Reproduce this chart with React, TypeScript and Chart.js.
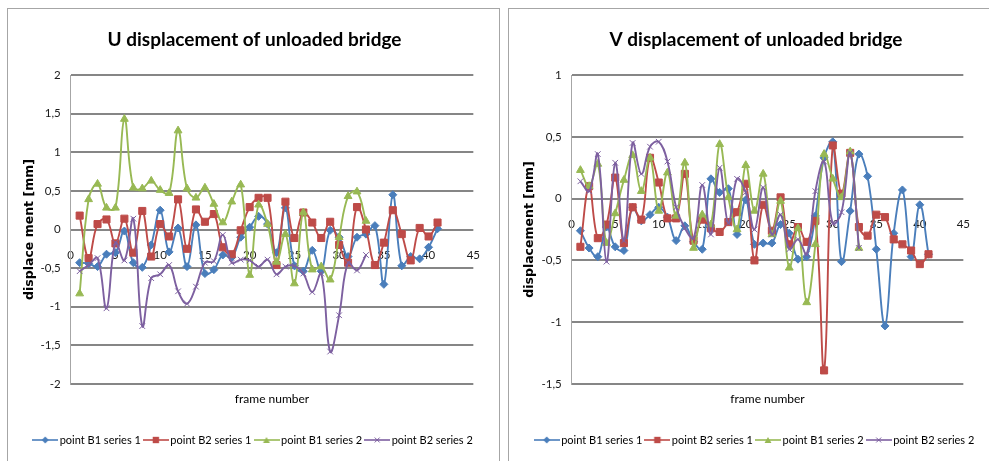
import React, { useEffect, useRef } from "react";
import { Chart, registerables } from "chart.js";

Chart.register(...registerables);

// ---------- data ----------
const FRAMES_SERIES1 = [1, 2, 3, 4, 5, 6, 7, 8, 9, 10, 11, 12, 13, 14, 15, 16, 17, 18, 19, 20, 21, 22, 23, 24, 25, 26, 27, 28, 29, 30, 31, 32, 33, 34, 35, 36, 37, 38, 39, 40, 41];
const FRAMES_SERIES2 = [1, 2, 3, 4, 5, 6, 7, 8, 9, 10, 11, 12, 13, 14, 15, 16, 17, 18, 19, 20, 21, 22, 23, 24, 25, 26, 27, 28, 29, 30, 31, 32, 33];

const SERIES_NAMES = ["point B1 series 1", "point B2 series 1", "point B1 series 2", "point B2 series 2"];

// U displacement [mm]
const U_B1_S1 = [-0.43, -0.44, -0.48, -0.32, -0.30, -0.02, -0.43, -0.49, -0.20, 0.25, -0.29, 0.02, -0.48, 0.06, -0.57, -0.52, -0.33, -0.36, -0.10, 0.03, 0.17, 0.07, -0.30, 0.28, -0.47, -0.54, -0.27, -0.54, -0.01, -0.10, -0.35, -0.10, -0.06, 0.05, -0.71, 0.45, -0.47, -0.35, -0.38, -0.23, 0.01];
const U_B2_S1 = [0.18, -0.37, 0.07, 0.13, -0.18, 0.14, -0.30, 0.24, -0.35, 0.07, -0.09, 0.39, -0.25, 0.26, 0.10, 0.20, -0.23, -0.32, -0.01, 0.29, 0.41, 0.41, -0.46, 0.36, -0.11, 0.22, 0.09, -0.11, 0.10, -0.20, -0.43, 0.29, 0.0, -0.46, -0.17, 0.25, -0.06, -0.40, 0.02, -0.09, 0.09];
const U_B1_S2 = [-0.83, 0.39, 0.59, 0.28, 0.28, 1.43, 0.54, 0.53, 0.63, 0.51, 0.47, 1.28, 0.53, 0.41, 0.54, 0.33, 0.09, 0.36, 0.58, -0.59, 0.32, 0.07, -0.42, -0.06, -0.70, 0.22, -0.52, -0.48, -0.65, -0.10, 0.43, 0.49, 0.11];
const U_B2_S2 = [-0.54, -0.46, -0.37, -1.02, -0.17, -0.40, 0.14, -1.25, -0.63, -0.58, -0.46, -0.80, -0.96, -0.74, -0.43, -0.41, -0.07, -0.43, -0.39, -0.40, -0.48, -0.39, -0.58, -0.48, -0.47, -0.57, -0.81, -0.57, -1.58, -1.11, -0.43, -0.53, -0.33];

// V displacement [mm]
const V_B1_S1 = [-0.26, -0.40, -0.47, -0.23, -0.39, -0.42, -0.07, -0.18, -0.13, -0.07, -0.15, -0.34, -0.22, -0.35, -0.41, 0.16, 0.05, 0.08, -0.29, -0.01, -0.37, -0.36, -0.36, -0.21, -0.28, -0.49, -0.47, -0.14, 0.33, 0.46, -0.51, -0.10, 0.36, 0.18, -0.41, -1.03, -0.28, 0.07, -0.47, -0.05, -0.45];
const V_B2_S1 = [-0.39, 0.10, -0.32, -0.21, 0.17, -0.36, -0.07, -0.17, 0.33, 0.13, -0.16, -0.16, 0.20, -0.34, -0.17, -0.24, -0.27, -0.19, -0.11, 0.12, -0.50, -0.05, -0.26, 0.01, -0.37, -0.23, -0.35, -0.18, -1.39, 0.43, 0.04, 0.37, -0.23, -0.30, -0.13, -0.15, -0.33, -0.37, -0.42, -0.53, -0.45];
const V_B1_S2 = [0.23, 0.10, 0.28, -0.36, -0.12, 0.15, 0.35, 0.06, 0.33, -0.10, 0.21, -0.14, 0.29, -0.40, -0.13, -0.21, 0.44, 0.01, -0.25, 0.27, -0.10, 0.20, -0.29, -0.02, -0.56, -0.24, -0.84, -0.37, 0.36, 0.16, 0.01, 0.38, -0.40];
const V_B2_S2 = [0.14, 0.06, 0.36, -0.51, 0.29, -0.34, 0.45, 0.20, 0.42, 0.46, 0.30, -0.07, -0.24, -0.32, 0.11, -0.29, 0.25, -0.20, 0.16, 0.05, -0.25, 0.09, -0.29, -0.13, -0.41, -0.33, -0.45, 0.06, 0.30, -0.20, -0.11, 0.37, -0.40];

const X_MIN = 0;
const X_MAX = 45;
const X_STEP = 5;
const Y_STEP = 0.5;
const U_Y_RANGE = [-2, 2];
const V_Y_RANGE = [-1.5, 1];

// ---------- styles ----------
const SANS = "Lato, 'Noto Sans', sans-serif";
const LINE_COLORS = ["#4A7EBB", "#BE4B48", "#98B954", "#7D60A0"];
const MARKER_STYLES = ["rectRot", "rect", "triangle", "crossRot"];
const MARKER_RADII = [4, 5, 4.5, 4];

function makeIcon(color: string, style: string, r: number) {
  const c = document.createElement("canvas");
  c.width = 26;
  c.height = 12;
  const g = c.getContext("2d") as CanvasRenderingContext2D;
  g.strokeStyle = color;
  g.fillStyle = color;
  g.lineWidth = 1.6;
  g.beginPath();
  g.moveTo(0, 6);
  g.lineTo(26, 6);
  g.stroke();
  const cx = 13, cy = 6;
  g.beginPath();
  if (style === "rectRot") {
    g.moveTo(cx, cy - r); g.lineTo(cx + r, cy); g.lineTo(cx, cy + r); g.lineTo(cx - r, cy); g.closePath(); g.fill();
  } else if (style === "rect") {
    const s = r * Math.SQRT1_2;
    g.fillRect(cx - s, cy - s, 2 * s, 2 * s);
  } else if (style === "triangle") {
    for (let k = 0; k < 3; k++) {
      const a = (k * 2 * Math.PI) / 3;
      const px = cx + Math.sin(a) * r, py = cy + 1 - Math.cos(a) * r;
      if (k === 0) g.moveTo(px, py); else g.lineTo(px, py);
    }
    g.closePath(); g.fill();
  } else {
    const s = r * Math.SQRT1_2;
    g.lineWidth = 1;
    g.moveTo(cx - s, cy - s); g.lineTo(cx + s, cy + s);
    g.moveTo(cx - s, cy + s); g.lineTo(cx + s, cy - s);
    g.stroke();
  }
  return c;
}

function buildDatasets(values: number[][]) {
  const frames = [FRAMES_SERIES1, FRAMES_SERIES1, FRAMES_SERIES2, FRAMES_SERIES2];
  return values.map((ys, k) => ({
    label: SERIES_NAMES[k],
    data: ys.map((y, i) => ({ x: frames[k][i], y })),
    borderColor: LINE_COLORS[k],
    backgroundColor: LINE_COLORS[k],
    pointBackgroundColor: LINE_COLORS[k],
    pointBorderColor: LINE_COLORS[k],
    pointStyle: MARKER_STYLES[k],
    pointRadius: MARKER_RADII[k],
    pointBorderWidth: 1,
    borderWidth: 1.9,
    tension: 0.4,
    fill: false,
    order: 4 - k,
  }));
}

type PanelProps = {
  title: string;
  yTitle: string;
  yRange: number[];
  values: number[][];
  width: number;
  height: number;
  padL: number;
  padR: number;
  yTitlePad: number;
  plotLeft: number;
};

function Panel(props: PanelProps) {
  const ref = useRef<HTMLCanvasElement | null>(null);
  useEffect(() => {
    const canvas = ref.current;
    if (!canvas) return;
    const icons = MARKER_STYLES.map((s, k) => makeIcon(LINE_COLORS[k], s, MARKER_RADII[k] - 0.5));
    const tickFont = { family: SANS, size: 11.5 };
    const chart = new Chart(canvas, {
      type: "line",
      data: { datasets: buildDatasets(props.values) as any },
      options: {
        responsive: false,
        animation: false,
        events: [],
        layout: { padding: { left: props.padL, right: props.padR, top: 0, bottom: 5.5 } },
        plugins: {
          title: {
            display: true,
            text: props.title,
            color: "#000",
            font: { family: SANS, size: 19, weight: "bold" },
            padding: { top: 19.6, bottom: 23.6 },
          },
          legend: {
            display: true,
            position: "bottom",
            labels: {
              usePointStyle: true,
              pointStyleWidth: 18,
              padding: 6,
              color: "#000",
              font: { family: SANS, size: 11 },
              generateLabels: (ch: any) =>
                ch.data.datasets.map((d: any, i: number) => ({
                  text: d.label,
                  pointStyle: icons[i],
                  fillStyle: LINE_COLORS[i],
                  strokeStyle: LINE_COLORS[i],
                  lineWidth: 0,
                  hidden: false,
                  datasetIndex: i,
                })),
            },
          },
          tooltip: { enabled: false },
        },
        scales: {
          x: {
            type: "linear",
            axis: "x",
            min: X_MIN,
            max: X_MAX,
            position: { y: 0 },
            grid: { display: false, drawTicks: false },
            border: { display: false },
            ticks: { stepSize: X_STEP, padding: 19, color: "#1a1a1a", font: tickFont },
            afterFit: (s: any) => { s.height = 0; },
          },
          x2: {
            type: "linear",
            axis: "x",
            position: "bottom",
            min: X_MIN,
            max: X_MAX,
            grid: { display: false, drawTicks: false },
            border: { display: false },
            ticks: { display: false },
            title: {
              display: true,
              text: "frame number",
              color: "#000",
              font: { family: SANS, size: 12 },
              padding: { top: 5.6, bottom: 22.5 },
            },
            afterFit: (s: any) => { s.height = 44.5; },
          },
          y: {
            type: "linear",
            position: "left",
            min: props.yRange[0],
            max: props.yRange[1],
            grid: { color: "#868686", lineWidth: 2, drawTicks: false },
            border: { display: true, color: "#a6a6a6", width: 1 },
            ticks: {
              stepSize: Y_STEP,
              padding: 10,
              color: "#1a1a1a",
              font: tickFont,
              callback: (v: any) => String(v).replace(".", ","),
            },
            title: {
              display: true,
              text: props.yTitle,
              color: "#000",
              font: { family: "'DejaVu Sans', sans-serif", size: 12.5, weight: "bold" },
              padding: { top: props.yTitlePad, bottom: 0 },
            },
            afterFit: (s: any) => { s.width = props.plotLeft - props.padL; },
          },
        },
      } as any,
    });
    return () => chart.destroy();
  }, []);
  return <canvas ref={ref} width={props.width} height={props.height} />;
}

export default function App() {
  const border = "1px solid #a6a6a6";
  return (
    <div style={{ position: "fixed", left: 0, top: 0, width: 989, height: 461, overflow: "hidden", background: "#fff" }}>
      <div style={{ position: "absolute", left: 7, top: 8, width: 491, height: 460, borderLeft: border, borderTop: border, borderRight: border }} />
      <div style={{ position: "absolute", left: 508, top: 8, width: 490, height: 460, borderLeft: border, borderTop: border }} />
      <div style={{ position: "absolute", left: 8, top: 9 }}>
        <Panel
          title="U displacement of unloaded bridge"
          yTitle="displace ment [mm]"
          yRange={U_Y_RANGE}
          values={[U_B1_S1, U_B2_S1, U_B1_S2, U_B2_S2]}
          width={491}
          height={452}
          padL={20}
          padR={18}
          yTitlePad={-5.6}
          plotLeft={62.7}
        />
      </div>
      <div style={{ position: "absolute", left: 509, top: 9 }}>
        <Panel
          title="V displacement of unloaded bridge"
          yTitle="displacement [mm]"
          yRange={V_Y_RANGE}
          values={[V_B1_S1, V_B2_S1, V_B1_S2, V_B2_S2]}
          width={480}
          height={452}
          padL={21.3}
          padR={7.3}
          yTitlePad={-8}
          plotLeft={62.7}
        />
      </div>
    </div>
  );
}
